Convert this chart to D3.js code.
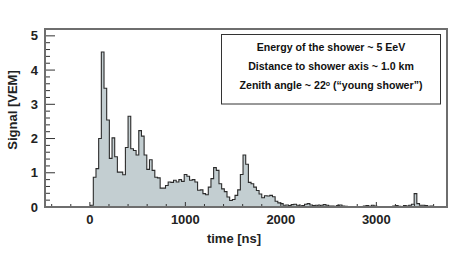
<!DOCTYPE html>
<html>
<head>
<meta charset="utf-8">
<script src="https://cdn.jsdelivr.net/npm/d3@7"></script>
<style>
body{margin:0;background:#fff;}
text{font-family:"Liberation Sans",Arial,Helvetica,sans-serif;font-weight:bold;}
</style>
</head>
<body>
<svg width="457" height="267"></svg>
<script>
// histogram bins (ns), signal
var binStart = 8;
var binWidth = 28;
var signal = [0.05,0.87,1.12,2.0,4.53,3.47,2.54,1.42,2.02,1.47,
  1.02,1.02,0.94,1.74,2.65,1.70,1.65,1.52,2.23,2.07,
  1.52,1.1,1.38,1.07,0.87,0.85,0.55,0.55,0.63,0.73,
  0.72,0.78,0.73,0.8,0.75,0.95,0.9,0.78,0.8,0.73,
  0.49,0.5,0.39,0.36,0.58,0.83,1.15,1.07,0.68,0.53,
  0.45,0.29,0.19,0.22,0.34,0.5,0.95,1.52,1.25,0.72,
  0.68,0.58,0.48,0.38,0.27,0.33,0.32,0.34,0.3,0.17,
  0.12,0.1,0.05,0.06,0.04,0.07,0.08,0.05,0.03,0.04,
  0.08,0.1,0.06,0.04,0.05,0.03,0.05,0.07,0.05,0.03,
  0.03,0.02,0.04,0.06,0.03,0.02,0.01,0,0,0,
  0,0,0.03,0.04,0.02,0.05,0.03,0,0,0,
  0,0,0,0.03,0.04,0.02,0,0.04,0.03,0.05,
  0.08,0.39,0.1,0.05,0.05,0.04,0.02,0.03,0];
var xTicks = [0,1000,2000,3000];
var yTicks = [0,1,2,3,4,5];
var legendLines = ["Energy of the shower ~ 5 EeV","Distance to shower axis ~ 1.0 km"];

var svg = d3.select("svg");
var padL = 45, padR = 447, padT = 29, padB = 207;

var x = d3.scaleLinear().domain([-470,3740]).range([padL,padR]);
var y = d3.scaleLinear().domain([0,5.2]).range([padB,padT]);

// step outline of the histogram
var pts = [[-470,0],[binStart,0]];
signal.forEach(function(v,i){
  var t0 = binStart + i*binWidth;
  pts.push([t0,v]);
  pts.push([t0+binWidth,v]);
});
pts.push([binStart+signal.length*binWidth,0]);
pts.push([3740,0]);

var line = d3.line().x(function(d){return x(d[0]);}).y(function(d){return y(d[1]);});

svg.append("path")
  .attr("d",line(pts))
  .attr("fill","#c3ced1")
  .attr("stroke","#2b2b2b")
  .attr("stroke-width",1.1)
  .attr("stroke-linejoin","miter");

// y axis ticks (inside)
var yMinor = d3.range(0,5.01,0.2);
svg.selectAll(".ymin").data(yMinor).enter().append("line")
  .attr("x1",padL).attr("x2",function(d){return Math.abs(d-Math.round(d))<0.01 ? padL+10 : padL+5;})
  .attr("y1",function(d){return y(d);}).attr("y2",function(d){return y(d);})
  .attr("stroke","#333").attr("stroke-width",1);

svg.selectAll(".ylab").data(yTicks).enter().append("text")
  .attr("x",38).attr("y",function(d){return y(d)+4.5;})
  .attr("text-anchor","end").attr("font-size",13).attr("fill","#222")
  .text(function(d){return d;});

// x axis ticks (inside, pointing up)
var xMinor = d3.range(-400,3740,200);
svg.selectAll(".xmin").data(xMinor).enter().append("line")
  .attr("x1",function(d){return x(d);}).attr("x2",function(d){return x(d);})
  .attr("y1",padB).attr("y2",function(d){return d%1000==0 ? padB-5 : padB-3;})
  .attr("stroke","#333").attr("stroke-width",1);

svg.selectAll(".xlab").data(xTicks).enter().append("text")
  .attr("x",function(d){return x(d);}).attr("y",224)
  .attr("text-anchor","middle").attr("font-size",13).attr("fill","#222")
  .text(function(d){return d;});

// frame
svg.append("rect")
  .attr("x",padL).attr("y",padT).attr("width",padR-padL).attr("height",padB-padT)
  .attr("fill","none").attr("stroke","#6e6e6e").attr("stroke-width",2);

// axis titles
svg.append("text")
  .attr("x",234).attr("y",243).attr("text-anchor","middle")
  .attr("font-size",13).attr("fill","#222").text("time [ns]");
svg.append("text")
  .attr("transform","translate(16.5,110) rotate(-90)").attr("text-anchor","middle")
  .attr("font-size",13).attr("fill","#222").text("Signal [VEM]");

// legend box
svg.append("rect")
  .attr("x",221.5).attr("y",34.5).attr("width",219).attr("height",69.5)
  .attr("fill","#fff").attr("stroke","#333").attr("stroke-width",1);
legendLines.forEach(function(s,i){
  svg.append("text").attr("x",331).attr("y",51+i*19)
    .attr("text-anchor","middle").attr("font-size",10.6).attr("fill","#111").text(s);
});
var l3 = svg.append("text").attr("x",331).attr("y",89)
  .attr("text-anchor","middle").attr("font-size",10.6).attr("fill","#111");
l3.append("tspan").text("Zenith angle ~ 22");
l3.append("tspan").attr("font-size",7).attr("dy",-3).text("o");
l3.append("tspan").attr("dy",3).text(" (\u201cyoung shower\u201d)");
</script>
</body>
</html>
